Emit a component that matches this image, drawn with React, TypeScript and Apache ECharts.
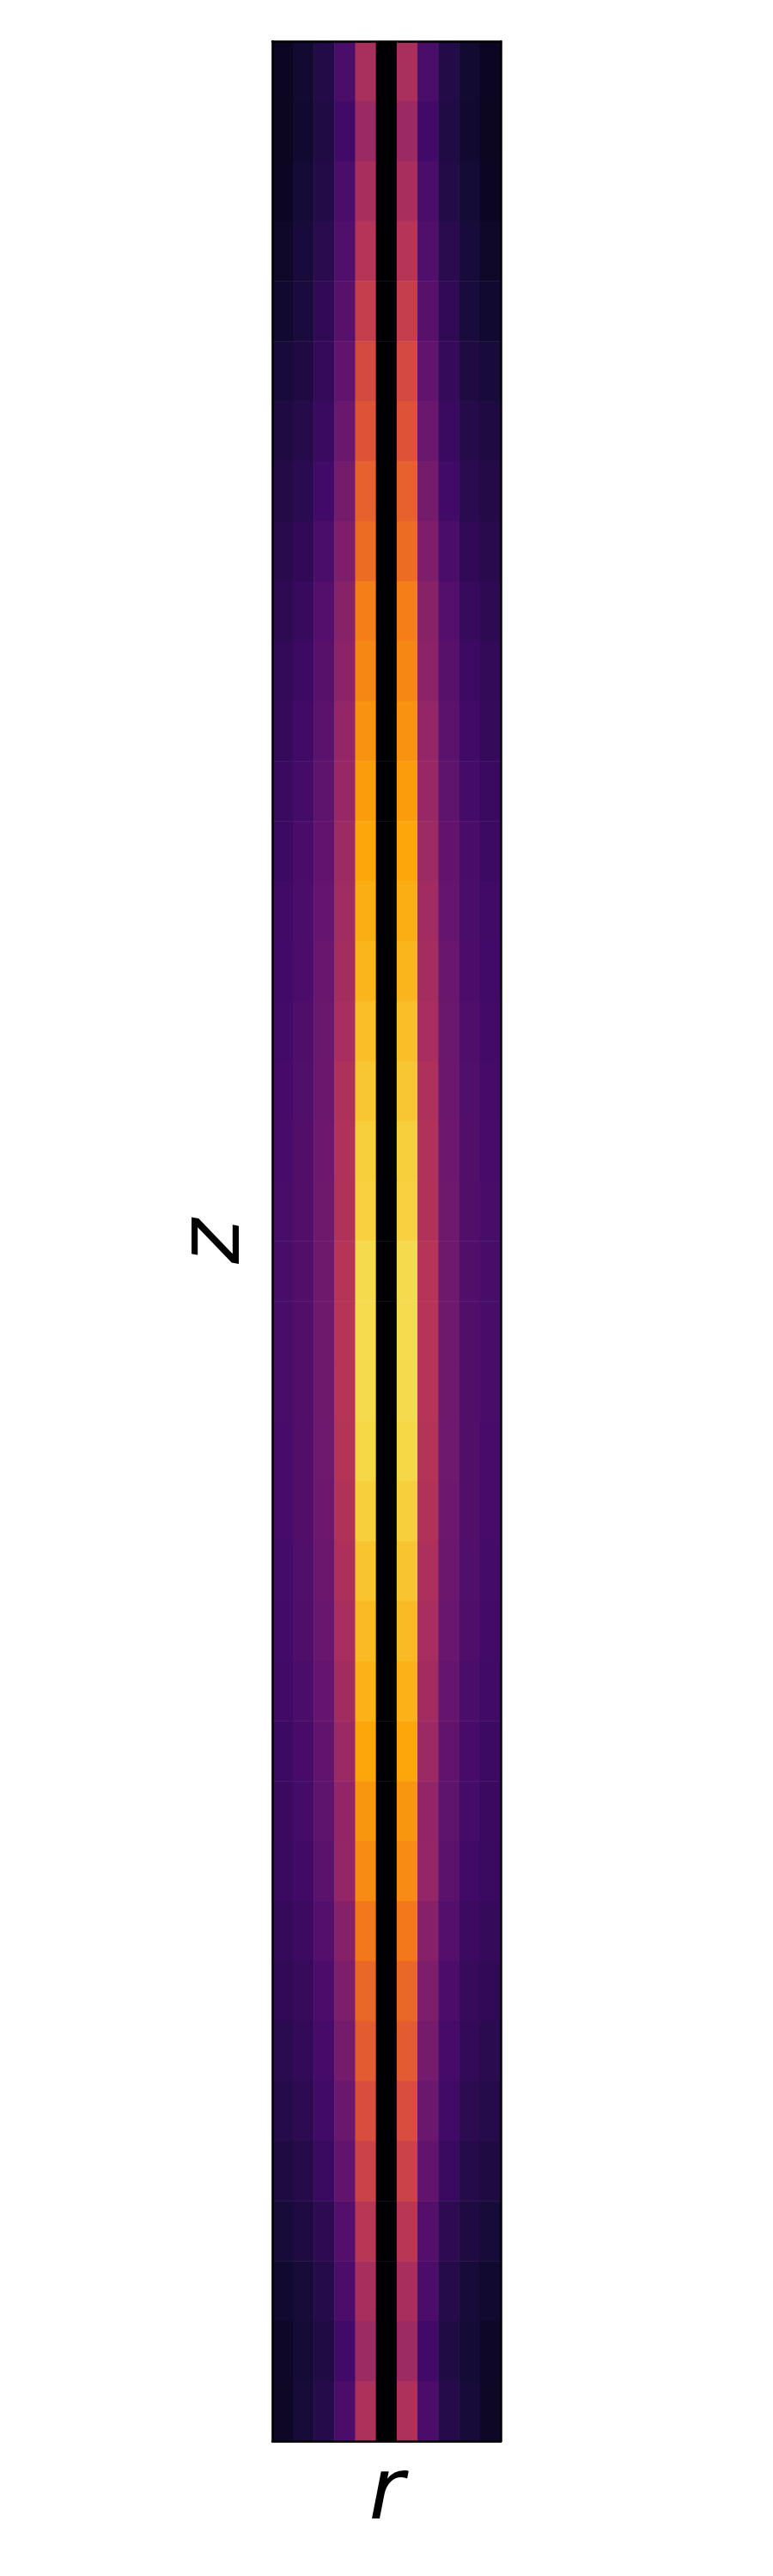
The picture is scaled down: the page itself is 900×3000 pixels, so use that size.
import React, { useEffect, useRef } from "react";
import * as echarts from "echarts";

// r categories (columns, left to right) and z categories (rows, top to bottom)
const rCategories = ["-5", "-4", "-3", "-2", "-1", "0", "1", "2", "3", "4", "5"];
const zCategories = [
  "0", "1", "2", "3", "4", "5", "6", "7", "8", "9",
  "10", "11", "12", "13", "14", "15", "16", "17", "18", "19",
  "20", "21", "22", "23", "24", "25", "26", "27", "28", "29",
  "30", "31", "32", "33", "34", "35", "36", "37", "38", "39",
];

// Normalised intensity per column (|r| = 5 outermost ... |r| = 0 centre), rows top to bottom
const colR5 = [0.057, 0.053, 0.058, 0.07, 0.083, 0.105, 0.12, 0.132, 0.143, 0.155, 0.166, 0.173, 0.182, 0.189, 0.195, 0.2, 0.203, 0.21, 0.212, 0.215, 0.215, 0.215, 0.215, 0.213, 0.212, 0.208, 0.203, 0.195, 0.189, 0.184, 0.182, 0.173, 0.159, 0.148, 0.134, 0.12, 0.1, 0.083, 0.068, 0.062];
const colR4 = [0.087, 0.083, 0.096, 0.105, 0.109, 0.12, 0.134, 0.148, 0.161, 0.177, 0.189, 0.195, 0.205, 0.218, 0.22, 0.225, 0.23, 0.235, 0.237, 0.24, 0.24, 0.24, 0.24, 0.239, 0.237, 0.235, 0.23, 0.22, 0.212, 0.205, 0.198, 0.186, 0.175, 0.166, 0.15, 0.136, 0.12, 0.1, 0.096, 0.1];
const colR3 = [0.13, 0.123, 0.13, 0.145, 0.159, 0.173, 0.182, 0.2, 0.22, 0.242, 0.252, 0.262, 0.27, 0.28, 0.288, 0.295, 0.3, 0.302, 0.307, 0.312, 0.312, 0.312, 0.312, 0.31, 0.307, 0.302, 0.295, 0.288, 0.28, 0.27, 0.26, 0.242, 0.225, 0.21, 0.195, 0.182, 0.155, 0.134, 0.123, 0.134];
const colR2 = [0.22, 0.2, 0.22, 0.235, 0.255, 0.278, 0.3, 0.327, 0.349, 0.371, 0.383, 0.398, 0.41, 0.422, 0.434, 0.441, 0.449, 0.463, 0.471, 0.473, 0.483, 0.483, 0.483, 0.48, 0.473, 0.461, 0.449, 0.437, 0.417, 0.395, 0.4, 0.368, 0.346, 0.327, 0.3, 0.28, 0.242, 0.222, 0.2, 0.222];
const colR1 = [0.454, 0.417, 0.451, 0.483, 0.527, 0.573, 0.605, 0.64, 0.669, 0.713, 0.733, 0.758, 0.782, 0.802, 0.816, 0.83, 0.85, 0.866, 0.882, 0.888, 0.907, 0.91, 0.907, 0.9, 0.884, 0.864, 0.842, 0.824, 0.802, 0.767, 0.742, 0.7, 0.659, 0.626, 0.585, 0.545, 0.495, 0.451, 0.422, 0.463];
const colR0 = [0, 0, 0, 0, 0, 0, 0, 0, 0, 0, 0, 0, 0, 0, 0, 0, 0, 0, 0, 0, 0, 0, 0, 0, 0, 0, 0, 0, 0, 0, 0, 0, 0, 0, 0, 0, 0, 0, 0, 0];

// column order left -> right (mirror-symmetric profile)
const columns = [colR5, colR4, colR3, colR2, colR1, colR0, colR1, colR2, colR3, colR4, colR5];

const inferno = [
  "#000004", "#160B39", "#420A68", "#6A176E", "#932667", "#BC3754",
  "#DD513A", "#F37819", "#FCA50A", "#F6D746", "#FCFFA4",
];

export default function App() {
  const ref = useRef<HTMLDivElement>(null);

  useEffect(() => {
    if (!ref.current) return;
    const chart = echarts.init(ref.current, null, { renderer: "svg" });

    const data: [number, number, number][] = [];
    for (let zi = 0; zi < zCategories.length; zi++) {
      for (let ri = 0; ri < rCategories.length; ri++) {
        data.push([ri, zi, columns[ri][zi]]);
      }
    }

    const nameStyle = {
      fontFamily: "DejaVu Sans",
      fontStyle: "italic" as const,
      fontSize: 100,
      lineHeight: 100,
      color: "#000000",
    };
    const frameLine = { show: true, lineStyle: { color: "#000000", width: 2.5 } };
    const hidden = {
      axisTick: { show: false },
      axisLabel: { show: false },
      splitLine: { show: false },
      z: 10,
    };

    chart.setOption({
      animation: false,
      backgroundColor: "#ffffff",
      grid: { left: 317, top: 48, width: 266, height: 2795 },
      xAxis: [
        {
          type: "category",
          data: rCategories,
          position: "bottom",
          axisLine: frameLine,
          name: "r",
          nameLocation: "middle",
          nameGap: 5,
          nameTextStyle: nameStyle,
          ...hidden,
        },
        {
          type: "category",
          data: rCategories,
          position: "top",
          axisLine: frameLine,
          ...hidden,
        },
      ],
      yAxis: [
        {
          type: "category",
          data: zCategories,
          inverse: true,
          position: "left",
          axisLine: frameLine,
          name: "z",
          nameLocation: "middle",
          nameGap: 24,
          nameTextStyle: nameStyle,
          ...hidden,
        },
        {
          type: "category",
          data: zCategories,
          inverse: true,
          position: "right",
          axisLine: frameLine,
          ...hidden,
        },
      ],
      visualMap: {
        show: false,
        min: 0,
        max: 1,
        dimension: 2,
        inRange: { color: inferno },
      },
      series: [
        {
          type: "heatmap",
          xAxisIndex: 0,
          yAxisIndex: 0,
          data,
          itemStyle: { borderWidth: 0 },
          emphasis: { disabled: true },
        },
      ],
    });

    return () => chart.dispose();
  }, []);

  return (
    <div
      ref={ref}
      style={{ position: "absolute", left: 0, top: 0, width: 900, height: 3000 }}
    />
  );
}
